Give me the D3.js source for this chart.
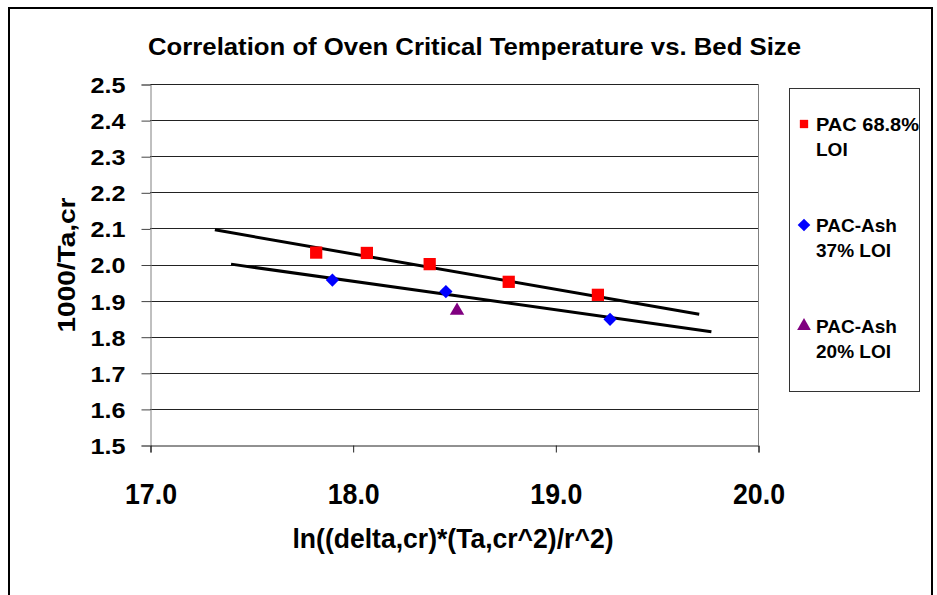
<!DOCTYPE html>
<html>
<head>
<meta charset="utf-8">
<script src="https://cdn.jsdelivr.net/npm/d3@7"></script>
<style>
  html, body { margin: 0; padding: 0; background: #fff; }
  svg { display: block; }
  text { font-family: "Liberation Sans", Arial, Helvetica, sans-serif; font-weight: bold; fill: #000; }
</style>
</head>
<body>
<svg id="chart" width="937" height="595"></svg>
<script>
// ---- data ----
const chartTitle = "Correlation of Oven Critical Temperature vs. Bed Size";
const xAxisTitle = "ln((delta,cr)*(Ta,cr^2)/r^2)";
const yAxisTitle = "1000/Ta,cr";

const xTicks = [17.0, 18.0, 19.0, 20.0];
const yTicks = [1.5, 1.6, 1.7, 1.8, 1.9, 2.0, 2.1, 2.2, 2.3, 2.4, 2.5];

const pac688X = [17.82, 18.07, 18.38, 18.77, 19.21];
const pac688Y = [2.033, 2.032, 2.001, 1.952, 1.916];

const ash37X = [17.90, 18.46, 19.27];
const ash37Y = [1.957, 1.925, 1.848];

const ash20X = [18.515];
const ash20Y = [1.872];

// trend lines (start / end)
const trendUpperX = [17.32, 19.71];
const trendUpperY = [2.096, 1.862];
const trendLowerX = [17.40, 19.77];
const trendLowerY = [2.001, 1.814];

const legendLabels = [["PAC 68.8%", "LOI"], ["PAC-Ash", "37% LOI"], ["PAC-Ash", "20% LOI"]];
const seriesColors = ["#FF0000", "#0000FF", "#800080"];

// ---- drawing ----
const svg = d3.select("#chart");
const plot = { left: 150, right: 758, top: 84, bottom: 445 };

const x = d3.scaleLinear().domain([17, 20]).range([plot.left, plot.right]);
const y = d3.scaleLinear().domain([1.5, 2.5]).range([plot.bottom, plot.top]);

// outer frame
svg.append("rect").attr("x", 9).attr("y", 8).attr("width", 923).attr("height", 600)
  .attr("fill", "#fff").attr("stroke", "#000").attr("stroke-width", 2);

// gridlines
svg.append("g").selectAll("line").data(yTicks.slice(1)).join("line")
  .attr("x1", plot.left).attr("x2", plot.right)
  .attr("y1", d => Math.round(y(d)) + 0.5).attr("y2", d => Math.round(y(d)) + 0.5)
  .attr("stroke", "#222").attr("stroke-width", 1);

// right border of plot
svg.append("line").attr("x1", plot.right + 0.5).attr("x2", plot.right + 0.5)
  .attr("y1", plot.top).attr("y2", plot.bottom).attr("stroke", "#808080");

// y axis
const yAxis = d3.axisLeft(y).tickValues(yTicks).tickSize(9).tickPadding(0).tickFormat(d3.format(".1f"));
const gy = svg.append("g").attr("transform", `translate(${plot.left + 0.5},0.5)`).call(yAxis);
gy.select(".domain").attr("stroke", "#808080");
gy.selectAll(".tick line").attr("stroke", "#444");
gy.selectAll(".tick text")
  .attr("x", -25).attr("dy", "0.36em")
  .attr("font-size", 22).attr("font-family", null)
  .attr("textLength", 35).attr("lengthAdjust", "spacingAndGlyphs");

// x axis
const xAxis = d3.axisBottom(x).tickValues(xTicks).tickSize(7).tickPadding(0).tickFormat(d3.format(".1f"));
const gx = svg.append("g").attr("transform", `translate(0.5,${plot.bottom + 0.5})`).call(xAxis);
gx.select(".domain").attr("stroke", "#222");
gx.selectAll(".tick line").attr("stroke", "#222");
gx.selectAll(".tick text")
  .attr("y", 58).attr("dy", 0)
  .attr("font-size", 30).attr("font-family", null)
  .attr("textLength", 52).attr("lengthAdjust", "spacingAndGlyphs");
svg.selectAll(".domain").attr("fill", "none");

// trend lines
const lineGen = d3.line().x(d => x(d[0])).y(d => y(d[1]));
[[trendUpperX, trendUpperY], [trendLowerX, trendLowerY]].forEach(([xs, ys]) => {
  svg.append("path").attr("d", lineGen(d3.zip(xs, ys)))
    .attr("stroke", "#000").attr("stroke-width", 3).attr("fill", "none");
});

// markers
const sqr = d3.symbol().type(d3.symbolSquare).size(150);
const dia = d3.symbol().type(d3.symbolSquare).size(88);
const tri = d3.symbol().type(d3.symbolTriangle).size(90);
const seriesDefs = [
  { xs: pac688X, ys: pac688Y, sym: sqr, color: seriesColors[0], rot: 0 },
  { xs: ash37X, ys: ash37Y, sym: dia, color: seriesColors[1], rot: 45 },
  { xs: ash20X, ys: ash20Y, sym: tri, color: seriesColors[2], rot: 0 }
];
seriesDefs.forEach(s => {
  svg.append("g").selectAll("path").data(d3.zip(s.xs, s.ys)).join("path")
    .attr("d", s.sym())
    .attr("transform", d => `translate(${x(d[0])},${y(d[1])}) rotate(${s.rot})`)
    .attr("fill", s.color);
});

// title
svg.append("text").attr("x", 474.5).attr("y", 55).attr("text-anchor", "middle")
  .attr("font-size", 24).attr("textLength", 653).attr("lengthAdjust", "spacingAndGlyphs")
  .text(chartTitle);

// axis titles
svg.append("text").attr("x", 453).attr("y", 548).attr("text-anchor", "middle")
  .attr("font-size", 28).attr("textLength", 321).attr("lengthAdjust", "spacingAndGlyphs")
  .text(xAxisTitle);

svg.append("text").attr("transform", "translate(75,265) rotate(-90)").attr("text-anchor", "middle")
  .attr("font-size", 24).attr("textLength", 135).attr("lengthAdjust", "spacingAndGlyphs")
  .text(yAxisTitle);

// legend
svg.append("rect").attr("x", 789.5).attr("y", 88.5).attr("width", 130).attr("height", 303)
  .attr("fill", "#fff").attr("stroke", "#333").attr("stroke-width", 1);
const legendSyms = [sqr, dia, tri];
const legendRot = [0, 45, 0];
const legendScale = [0.68, 0.95, 0.95];
const legendBase = [131, 232, 333];
legendLabels.forEach((lines, i) => {
  const g = svg.append("g");
  g.append("path").attr("d", legendSyms[i]()).attr("fill", seriesColors[i])
    .attr("transform", `translate(804,${legendBase[i] - 7}) rotate(${legendRot[i]}) scale(${legendScale[i]})`);
  lines.forEach((t, j) => {
    const tx = g.append("text").attr("x", 816).attr("y", legendBase[i] + j * 25)
      .attr("font-size", 19).text(t);
    if (i === 0 && j === 0) tx.attr("textLength", 103).attr("lengthAdjust", "spacingAndGlyphs");
  });
});
</script>
</body>
</html>
